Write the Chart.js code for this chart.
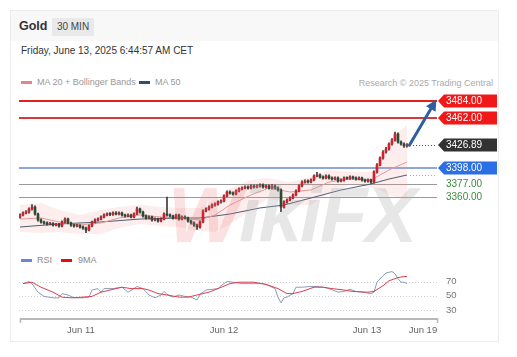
<!DOCTYPE html>
<html><head><meta charset="utf-8">
<script src="https://cdn.jsdelivr.net/npm/chart.js@4.4.0/dist/chart.umd.min.js"></script>
<style>
html,body{margin:0;padding:0}
body{width:517px;height:357px;background:#fff;font-family:"Liberation Sans",Arial,sans-serif;overflow:hidden;position:relative}
.abs{position:absolute;white-space:nowrap}
.card{left:10px;top:10px;width:489px;height:332px;border:1px solid #ececec;box-sizing:border-box}
.hdr{left:11px;top:11px;width:487px;height:30px;background:#f8f8f8}
.gold{left:19px;top:19px;font-size:12.5px;font-weight:bold;color:#333;line-height:14px}
.badge{left:52px;top:18px;width:42px;height:18px;line-height:18px;text-align:center;background:#e9e9e9;font-size:10px;color:#444}
.date{left:21px;top:45px;font-size:10px;color:#333;line-height:12px}
.lg{font-size:9px;color:#999;line-height:10px}
.sw{height:3px;width:11px}
#wm{left:168px;top:172px;font-size:78px;font-weight:bold;font-style:italic;color:rgba(170,170,170,0.28);line-height:86px;pointer-events:none;letter-spacing:-2px}
#wm span{color:rgba(235,120,120,0.22)}
canvas{position:absolute;left:0;top:0}
</style></head>
<body>
<div class="abs card"></div>
<div class="abs hdr"></div>
<div class="abs gold">Gold</div>
<div class="abs badge">30 MIN</div>
<div class="abs date">Friday, June 13, 2025 6:44:57 AM CET</div>
<div class="abs sw" style="left:21px;top:81px;background:#e8838b"></div>
<div class="abs lg" style="left:37px;top:77px">MA 20 + Bollinger Bands</div>
<div class="abs sw" style="left:139px;top:81px;background:#2d4e73"></div>
<div class="abs lg" style="left:155px;top:77px">MA 50</div>
<div class="abs lg" style="right:24px;top:78px;color:#aaa">Research © 2025 Trading Central</div>
<div class="abs sw" style="left:21px;top:259px;background:#6a86d8"></div>
<div class="abs lg" style="left:37px;top:255px;color:#888">RSI</div>
<div class="abs sw" style="left:61px;top:259px;background:#e01010"></div>
<div class="abs lg" style="left:78px;top:255px;color:#888">9MA</div>
<canvas id="c" width="517" height="357"></canvas>
<div class="abs" id="wm"><span>W</span>ikiFX</div>
<script>
// ---- data ----
const opens = [
3334.0,3336.7,3339.3,3340.6,3344.5,3347.0,3338.0,3330.3,3327.7,3326.4,
3325.1,3325.8,3323.8,3324.5,3322.5,3327.7,3331.5,3326.4,3323.8,3322.5,
3323.0,3321.2,3319.9,3317.3,3322.5,3327.7,3330.3,3331.5,3334.1,3336.7,
3338.0,3337.5,3339.3,3338.0,3339.3,3336.7,3335.4,3336.7,3334.1,3338.0,
3344.5,3340.6,3335.4,3332.8,3334.1,3330.3,3331.5,3329.0,3331.5,3338.0,
3336.7,3335.4,3332.8,3336.7,3331.5,3334.1,3332.8,3329.0,3326.4,3323.8,
3321.2,3327.7,3341.9,3344.5,3347.0,3349.6,3350.9,3353.5,3354.8,3361.3,
3366.4,3365.1,3363.8,3367.7,3370.3,3371.6,3372.9,3371.6,3374.2,3372.9,
3374.2,3375.5,3372.9,3374.2,3371.6,3374.2,3371.6,3369.0,3347.0,3353.5,
3356.1,3358.7,3362.6,3367.7,3374.2,3379.3,3380.6,3379.3,3381.9,3387.1,
3388.4,3385.8,3384.5,3387.1,3384.5,3383.2,3384.5,3380.6,3381.9,3384.5,
3384.0,3385.8,3384.5,3383.2,3384.5,3381.9,3380.6,3381.9,3379.3,3392.3,
3401.3,3410.4,3418.1,3422.0,3428.4,3433.6,3441.4,3431.0,3428.4,3425.9];
const highs = [
3338.2,3340.8,3342.5,3346.0,3350.2,3348.5,3339.1,3331.8,3329.0,3328.0,
3327.3,3327.0,3326.1,3325.8,3329.1,3333.0,3332.6,3327.5,3325.0,3324.6,
3324.3,3322.7,3321.0,3323.9,3329.0,3331.8,3333.1,3335.5,3338.3,3339.6,
3339.7,3340.8,3341.0,3340.9,3340.5,3338.0,3338.1,3337.9,3339.4,3347.0,
3345.7,3341.8,3336.9,3335.6,3335.3,3333.0,3332.7,3332.9,3339.5,3360.0,
3338.1,3336.6,3338.0,3337.9,3335.6,3335.5,3334.0,3330.3,3327.8,3325.0,
3329.2,3343.4,3346.0,3348.6,3351.0,3352.5,3355.0,3356.4,3362.8,3368.0,
3367.9,3366.6,3369.2,3371.8,3373.2,3374.5,3374.3,3375.7,3375.8,3375.6,
3377.0,3376.9,3375.8,3375.6,3375.9,3375.5,3373.0,3370.5,3355.0,3357.6,
3360.2,3364.1,3369.2,3375.7,3380.9,3382.1,3382.0,3383.4,3388.6,3392.0,
3389.9,3387.2,3388.6,3388.5,3386.0,3386.0,3385.9,3383.4,3386.0,3385.9,
3387.3,3387.1,3386.0,3386.0,3385.8,3383.2,3383.4,3383.0,3393.9,3403.0,
3412.0,3419.8,3424.0,3430.0,3435.3,3443.9,3443.0,3432.6,3429.9,3428.9];
const lows = [
3332.5,3335.6,3338.1,3339.2,3343.0,3336.4,3328.6,3326.2,3324.9,3323.6,
3323.9,3322.4,3322.5,3321.0,3321.3,3326.5,3325.2,3322.1,3321.0,3321.2,
3319.8,3318.1,3314.0,3316.2,3321.4,3326.6,3329.0,3330.2,3333.0,3335.4,
3336.0,3336.1,3336.8,3336.7,3335.2,3334.0,3334.1,3332.8,3333.0,3337.0,
3339.2,3334.0,3331.3,3331.5,3328.9,3329.1,3327.5,3327.8,3330.4,3335.2,
3334.0,3331.4,3331.6,3330.0,3330.3,3331.2,3327.6,3325.0,3322.1,3318.0,
3319.8,3326.5,3340.6,3343.1,3345.8,3348.2,3349.5,3352.1,3353.6,3360.0,
3363.6,3362.3,3362.5,3366.4,3369.0,3370.3,3370.1,3370.4,3371.5,3371.6,
3372.8,3371.4,3371.5,3370.1,3370.2,3370.0,3367.4,3341.0,3345.5,3352.0,
3354.8,3357.4,3361.3,3366.5,3373.0,3377.8,3377.9,3378.0,3380.6,3385.8,
3384.4,3383.0,3383.2,3383.1,3381.8,3381.9,3379.2,3379.3,3380.5,3382.6,
3382.7,3383.1,3381.8,3381.9,3380.4,3379.1,3379.2,3377.5,3378.1,3390.8,
3400.0,3409.0,3416.5,3420.5,3427.0,3432.0,3429.5,3426.8,3424.1,3424.5];
const closes = [
3336.7,3339.3,3340.6,3344.5,3347.0,3338.0,3330.3,3327.7,3326.4,3325.1,
3325.8,3323.8,3324.5,3322.5,3327.7,3331.5,3326.4,3323.8,3322.5,3323.0,
3321.2,3319.9,3317.3,3322.5,3327.7,3330.3,3331.5,3334.1,3336.7,3338.0,
3337.5,3339.3,3338.0,3339.3,3336.7,3335.4,3336.7,3334.1,3338.0,3344.5,
3340.6,3335.4,3332.8,3334.1,3330.3,3331.5,3329.0,3331.5,3338.0,3336.7,
3335.4,3332.8,3336.7,3331.5,3334.1,3332.8,3329.0,3326.4,3323.8,3321.2,
3327.7,3341.9,3344.5,3347.0,3349.6,3350.9,3353.5,3354.8,3361.3,3366.4,
3365.1,3363.8,3367.7,3370.3,3371.6,3372.9,3371.6,3374.2,3372.9,3374.2,
3375.5,3372.9,3374.2,3371.6,3374.2,3371.6,3369.0,3347.0,3353.5,3356.1,
3358.7,3362.6,3367.7,3374.2,3379.3,3380.6,3379.3,3381.9,3387.1,3388.4,
3385.8,3384.5,3387.1,3384.5,3383.2,3384.5,3380.6,3381.9,3384.5,3384.0,
3385.8,3384.5,3383.2,3384.5,3381.9,3380.6,3381.9,3379.3,3392.3,3401.3,
3410.4,3418.1,3422.0,3428.4,3433.6,3441.4,3431.0,3428.4,3425.9,3426.89];

// indicator samples (bar index -> value)
const bbIdx   = [0,7,13,20,27,33,40,47,53,60,65,70,77,83,90,97,103,110,117,120,123,129];
const ma20    = [3331.5,3332.8,3327.7,3323.8,3326.4,3332.8,3336.7,3334.1,3332.8,3330.3,3336.7,3349.6,3362.6,3371.6,3366.4,3369.0,3379.3,3383.2,3381.9,3388.4,3394.9,3405.2];
const bbUpper = [3349.6,3352.2,3343.2,3336.7,3343.2,3347.0,3349.6,3347.0,3345.8,3345.8,3356.1,3371.6,3381.9,3384.5,3379.3,3385.8,3394.9,3392.3,3392.3,3407.8,3433.6,3453.0];
const bbLower = [3314.8,3313.5,3314.8,3312.2,3312.2,3319.9,3325.1,3322.5,3321.2,3316.0,3314.8,3325.1,3343.2,3358.7,3349.6,3349.6,3365.1,3375.5,3372.9,3369.0,3362.6,3357.4];
const ma50Idx = [0,13,27,40,53,60,70,80,88,97,107,117,123,129];
const ma50    = [3321.2,3325.1,3327.7,3331.5,3332.8,3332.8,3338.0,3345.8,3349.6,3358.7,3369.0,3376.8,3383.2,3388.4];

const rsiIdx = [1,3,4,6,8,11,13,14,16,18,21,23,24,26,27,28,31,34,36,38,39,41,43,45,47,48,49,51,53,55,57,59,60,62,64,66,67,69,71,74,78,81,83,85,86,87,88,89,91,92,94,97,99,101,103,106,108,110,112,114,117,118,119,121,122,124,125,126,127,128,129];
const rsiVal = [67,70,67,55,49,47,47,53,51,47,47,48,58,60,55,60,60,62,55,60,63,60,51,47,51,56,52,48,51,49,48,44,52,58,59,60,64,70,69,67,67,67,64,60,48,40,47,48,53,62,62,63,63,62,60,55,56,59,56,55,53,55,69,78,82,84,81,74,69,69,67];
const maRsiIdx = [1,4,7,11,14,17,21,24,27,31,34,37,41,43,46,49,53,56,59,63,66,70,73,78,82,86,89,91,94,98,101,104,108,111,116,118,121,123,126,128,129];
const maRsiVal = [67,69,62,55,48,47,48,49,55,59,62,60,60,58,53,51,48,48,51,55,60,67,69,69,66,60,53,53,56,62,62,60,58,56,55,56,64,71,75.5,77,77];

const levelValues = [3484, 3462, 3398, 3377, 3360];
const levelText   = ['3484.00','3462.00','3398.00','3377.00','3360.00'];
const lastPrice = 3426.89, lastText = '3426.89';
const rsiGrid = [70, 50, 30];
const xTickIdx = [20.3, 68, 115.7, 134.3];
const xTickLabels = ['Jun 11','Jun 12','Jun 13','Jun 19'];

// ---- build ----
const idx = closes.map((_, i) => i);
const upCol = '#d2202c', dnCol = '#2a4a32';
const bodyCols = idx.map(i => closes[i] >= opens[i] ? upCol : dnCol);
const pts = (xs, ys) => xs.map((x, k) => ({x: x, y: ys[k]}));

const levelStyle = [
  {line:'#e3201b', w:2, box:'#f01818'},
  {line:'#d83838', w:2, box:'#f01818'},
  {line:'#8ea7d8', w:2, box:'#2c6ee6'},
  {line:'#9a9a9a', w:1, text:'#3c8c3c'},
  {line:'#9a9a9a', w:1, text:'#3c8c3c'}
];

function boxLabel(ctx, py, col, txt) {
  ctx.fillStyle = col;
  ctx.beginPath();
  ctx.moveTo(438, py);
  ctx.lineTo(444, py - 6.5);
  ctx.lineTo(497, py - 6.5);
  ctx.lineTo(497, py + 6.5);
  ctx.lineTo(444, py + 6.5);
  ctx.closePath();
  ctx.fill();
  ctx.fillStyle = '#fff';
  ctx.fillText(txt, 446, py + 0.5);
}

const overlay = {
  id: 'overlay',
  beforeDatasetsDraw(ch) {
    const {ctx, chartArea: a, scales} = ch;
    const y = scales.y, r = scales.y2;
    ctx.save();
    ctx.lineWidth = 1; ctx.strokeStyle = '#cfcfcf'; ctx.setLineDash([1, 2]);
    rsiGrid.forEach(v => {
      const p = Math.round(r.getPixelForValue(v)) + 0.5;
      ctx.beginPath(); ctx.moveTo(a.left, p); ctx.lineTo(a.right, p); ctx.stroke();
    });
    ctx.setLineDash([]);
    levelValues.forEach((v, k) => {
      const s = levelStyle[k];
      let p = y.getPixelForValue(v);
      p = s.w === 1 ? Math.round(p) + 0.5 : Math.round(p);
      ctx.strokeStyle = s.line; ctx.lineWidth = s.w;
      ctx.beginPath(); ctx.moveTo(a.left, p); ctx.lineTo(a.right, p); ctx.stroke();
    });
    ctx.restore();
  },
  afterDatasetsDraw(ch) {
    const {ctx, chartArea: a, scales} = ch;
    const x = scales.x, y = scales.y, r = scales.y2;
    const last = closes.length - 1;
    ctx.save();
    ctx.lineWidth = 1; ctx.setLineDash([1, 2]);
    let p = Math.round(y.getPixelForValue(lastPrice)) + 0.5;
    ctx.strokeStyle = '#555';
    ctx.beginPath(); ctx.moveTo(x.getPixelForValue(last) + 3, p); ctx.lineTo(a.right, p); ctx.stroke();
    p = Math.round(y.getPixelForValue(ma50[ma50.length - 1])) + 0.5;
    ctx.strokeStyle = '#8fb0e6';
    ctx.beginPath(); ctx.moveTo(x.getPixelForValue(last) + 3, p); ctx.lineTo(a.right, p); ctx.stroke();
    ctx.setLineDash([]);
    // arrow
    const x0 = x.getPixelForValue(last + 0.8), y0 = y.getPixelForValue(lastPrice);
    const x1 = x.getPixelForValue(138.8), y1 = y.getPixelForValue(3486);
    const ang = Math.atan2(y1 - y0, x1 - x0);
    ctx.strokeStyle = '#2f5f9f'; ctx.fillStyle = '#2f5f9f'; ctx.lineWidth = 3; ctx.lineCap = 'round';
    ctx.beginPath(); ctx.moveTo(x0, y0);
    ctx.lineTo(x1 - 7 * Math.cos(ang), y1 - 7 * Math.sin(ang)); ctx.stroke();
    ctx.beginPath(); ctx.moveTo(x1, y1);
    ctx.lineTo(x1 - 11 * Math.cos(ang) + 5.5 * Math.sin(ang), y1 - 11 * Math.sin(ang) - 5.5 * Math.cos(ang));
    ctx.lineTo(x1 - 11 * Math.cos(ang) - 5.5 * Math.sin(ang), y1 - 11 * Math.sin(ang) + 5.5 * Math.cos(ang));
    ctx.closePath(); ctx.fill();
    // price labels
    ctx.font = '10px "Liberation Sans", Arial, sans-serif';
    ctx.textBaseline = 'middle'; ctx.textAlign = 'left';
    levelValues.forEach((v, k) => {
      const s = levelStyle[k];
      const py = Math.round(y.getPixelForValue(v));
      if (s.box) boxLabel(ctx, py, s.box, levelText[k]);
      else { ctx.fillStyle = s.text; ctx.fillText(levelText[k], 446, py + 0.5); }
    });
    boxLabel(ctx, Math.round(y.getPixelForValue(lastPrice)), '#333333', lastText);
    // rsi tick labels
    ctx.font = '9.5px "Liberation Sans", Arial, sans-serif';
    ctx.fillStyle = '#777';
    rsiGrid.forEach(v => ctx.fillText(String(v), 446, r.getPixelForValue(v)));
    // x axis
    ctx.strokeStyle = '#b8b8b8'; ctx.lineWidth = 2; ctx.lineCap = 'butt';
    ctx.beginPath(); ctx.moveTo(a.left + 1, a.bottom); ctx.lineTo(a.right + 1, a.bottom); ctx.stroke();
    ctx.lineWidth = 1.5;
    ctx.beginPath(); ctx.moveTo(a.left + 1.5, a.bottom - 1); ctx.lineTo(a.left + 1.5, a.bottom + 4);
    ctx.moveTo(a.right + 0.5, a.bottom - 1); ctx.lineTo(a.right + 0.5, a.bottom + 4); ctx.stroke();
    ctx.textAlign = 'center'; ctx.fillStyle = '#666';
    xTickIdx.forEach((t, k) => ctx.fillText(xTickLabels[k], x.getPixelForValue(t), 330));
    ctx.restore();
  }
};

new Chart(document.getElementById('c'), {
  type: 'bar',
  data: {
    datasets: [
      {type: 'bar', data: idx.map(i => ({x: i, y: [opens[i], closes[i]]})), yAxisID: 'y',
       backgroundColor: bodyCols, barThickness: 2, minBarLength: 1, grouped: false, order: 0},
      {type: 'bar', data: idx.map(i => ({x: i, y: [lows[i], highs[i]]})), yAxisID: 'y',
       backgroundColor: '#3c3c3c', barThickness: 1, grouped: false, order: 1},
      {type: 'line', data: pts(bbIdx, ma20), yAxisID: 'y', borderColor: '#e59a9a', borderWidth: 1,
       pointRadius: 0, fill: false, order: 2},
      {type: 'line', data: pts(ma50Idx, ma50), yAxisID: 'y', borderColor: '#4e5d73', borderWidth: 1,
       pointRadius: 0, fill: false, order: 2},
      {type: 'line', data: pts(bbIdx, bbUpper), yAxisID: 'y', borderWidth: 0, borderColor: 'rgba(0,0,0,0)',
       pointRadius: 0, fill: '+1', backgroundColor: 'rgba(240,140,140,0.16)', order: 5},
      {type: 'line', data: pts(bbIdx, bbLower), yAxisID: 'y', borderWidth: 0, borderColor: 'rgba(0,0,0,0)',
       pointRadius: 0, fill: false, order: 6},
      {type: 'line', data: pts(rsiIdx, rsiVal), yAxisID: 'y2', borderColor: '#8d9bb8', borderWidth: 1,
       pointRadius: 0, fill: false, order: 3},
      {type: 'line', data: pts(maRsiIdx, maRsiVal), yAxisID: 'y2', borderColor: '#d9404f', borderWidth: 1,
       pointRadius: 0, fill: false, order: 2}
    ]
  },
  options: {
    responsive: false, animation: false, devicePixelRatio: 1,
    layout: {padding: {left: 19, right: 80, top: 90, bottom: 38}},
    plugins: {legend: {display: false}, tooltip: {enabled: false}},
    scales: {
      x: {type: 'linear', min: -0.333, max: 139, offset: false, display: false},
      y: {type: 'linear', axis: 'y', min: 3202.35, max: 3498.21, display: false},
      y2: {type: 'linear', axis: 'y', min: 17.2, max: 339.7, display: false}
    }
  },
  plugins: [overlay]
});
</script>
</body></html>
